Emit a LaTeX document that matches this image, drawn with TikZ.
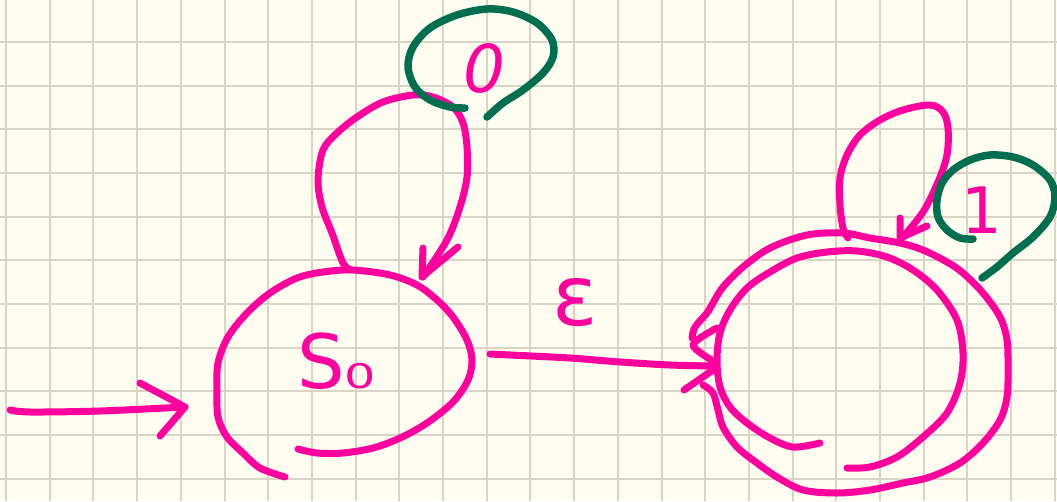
\documentclass[tikz,border=0pt]{standalone}
\usepackage{fontspec}
\setmainfont{DejaVu Sans}
\definecolor{paper}{HTML}{FFFDEF}
\definecolor{gridline}{HTML}{D8D5C5}
\definecolor{ink}{HTML}{FF009E}
\definecolor{leaf}{HTML}{006F4F}

\begin{document}
\begin{tikzpicture}[x=1pt,y=-1pt,
  pen/.style={draw=ink, line width=7pt, line cap=round, line join=round},
  greenpen/.style={draw=leaf, line width=7.5pt, line cap=round, line join=round},
  hand/.style={text=ink, inner sep=0pt, anchor=base},
  gridrule/.style={draw=gridline, line width=2pt}]
% squared paper, 43.7pt squares
\fill[paper] (0,0) rectangle (1057,501);
\useasboundingbox (0,0) rectangle (1057,501);
\foreach \gx in {6.0,49.7,...,1056} {
  \draw[gridrule] (\gx,0) -- (\gx,501);
}
\foreach \gy in {41.8,85.5,...,500} {
  \draw[gridrule] (0,\gy) -- (1057,\gy);
}

% state S0
\draw[pen] plot[smooth, tension=0.55] coordinates {
  (298,449) (317,453) (343,453) (373,448) (400,438) (427,423) (453,402)
  (468,380) (472,360) (467,340) (453,317) (437,300) (417,285) (390,275)
  (353,270) (323,272) (297,278) (270,293) (247,313) (228,337) (218,363)
  (217,390) (218,417) (227,437) (243,453) (260,468) (285,477)};
\node[hand, font=\fontsize{75}{75}\selectfont, anchor=base west] (s0) at (297,388)
  {S\fontsize{34}{34}\selectfont\scalebox{1.45}[1]{0}};

% loop on S0 labelled 0
\draw[pen] plot[smooth, tension=0.55] coordinates {
  (351,270) (343,263) (332,233) (322,207) (318,180) (323,150) (337,133)
  (357,117) (383,102) (413,95) (433,97) (453,107) (463,123) (467,147)
  (467,177) (460,207) (447,240) (423,277)};
\coordinate (tipA) at (422,277);
\draw[pen] (423,248) -- (tipA) -- (458,247);
\draw[greenpen] plot[smooth, tension=0.55] coordinates {
  (465,108) (450,107) (430,100) (415,87) (408,67) (413,47) (430,28)
  (457,15) (487,9) (513,12) (537,23) (552,40) (553,57) (543,73)
  (523,90) (503,103) (487,117)};
\node[hand, font=\fontsize{66}{66}\selectfont\itshape] (zero) at (484,92) {0};

% start arrow
\coordinate (start) at (10,410);
\coordinate (tipS) at (185,407);
\draw[pen] plot[smooth, tension=0.5] coordinates {(start) (30,412) (100,411) (tipS)};
\draw[pen] (140,383) -- (tipS) -- (160,436);

% accepting state, double ring
\draw[pen] plot[smooth, tension=0.55] coordinates {
  (692,338) (695,327) (707,313) (713,303) (723,287) (743,267) (770,248)
  (807,235) (843,233) (870,238) (900,243) (923,250) (947,262) (963,273)
  (983,293) (1000,317) (1007,340) (1008,370) (1007,397) (1000,420)
  (983,443) (960,463) (930,477) (903,483) (870,490) (837,493) (803,490)
  (777,477) (757,463) (737,447) (723,427) (718,410) (713,393) (703,385)};
\draw[pen] plot[smooth, tension=0.55] coordinates {
  (847,468) (870,467) (897,457) (923,437) (947,413) (960,383) (963,353)
  (957,320) (937,290) (913,270) (887,257) (857,251) (827,252) (797,258)
  (770,272) (747,288) (730,310) (720,333) (717,360) (720,387) (730,407)
  (747,423) (770,438) (793,447) (820,443)};

% epsilon transition
\coordinate (tipE) at (713,366);
\draw[pen] plot[smooth, tension=0.5] coordinates {
  (490,354) (510,355) (570,358) (620,362) (670,365) (tipE)};
\draw[pen] plot[smooth, tension=0.5] coordinates {(717,328) (693,345) (715,362)};
\draw[pen] (684,390) -- (713,370);
\node[hand, font=\fontsize{84}{84}\selectfont] (eps) at (575,325) {ε};

% loop on the accepting state labelled 1
\draw[pen] plot[smooth, tension=0.55] coordinates {
  (848,238) (843,228) (840,205) (840,178) (847,155) (860,135) (880,120)
  (903,110) (930,105) (943,112) (948,128) (947,155) (938,182) (923,212)
  (902,238)};
\coordinate (tipB) at (900,238);
\draw[pen] (900,218) -- (tipB) -- (927,226);
\draw[greenpen] plot[smooth, tension=0.55] coordinates {
  (973,239) (960,238) (947,230) (938,217) (937,200) (942,183) (953,170)
  (970,160) (990,155) (1013,157) (1033,165) (1050,180) (1055,197)
  (1050,217) (1033,237) (1013,253) (997,267) (982,278)};
\node[hand, font=\fontsize{64}{64}\selectfont] (one) at (982,233) {1};
\end{tikzpicture}
\end{document}
